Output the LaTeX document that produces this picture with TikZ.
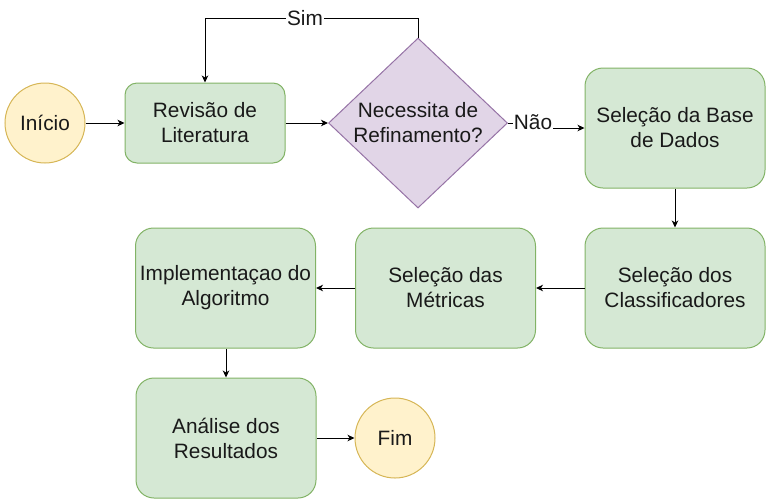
\documentclass[tikz,border=0pt]{standalone}
\usepackage{fontspec}
\setmainfont{Liberation Sans}
\usetikzlibrary{arrows.meta,shapes.geometric}
\definecolor{gfill}{HTML}{D5E8D4}
\definecolor{gline}{HTML}{82B366}
\definecolor{yfill}{HTML}{FFF2CC}
\definecolor{yline}{HTML}{D6B656}
\definecolor{pfill}{HTML}{E1D5E7}
\definecolor{pline}{HTML}{9673A6}
\tikzset{
  txt/.style={font=\fontsize{20.8}{25}\selectfont, align=center, text=black!90},
  procbox/.style={txt, draw=gline, fill=gfill, line width=1pt, rectangle, inner sep=0pt},
  bigbox/.style={procbox, minimum width=180pt, minimum height=120pt, rounded corners=18pt},
  smallbox/.style={procbox, minimum width=160pt, minimum height=80pt, rounded corners=12pt},
  term/.style={txt, draw=yline, fill=yfill, line width=1pt, circle, minimum size=80pt, inner sep=0pt},
  decis/.style={draw=pline, fill=pfill, line width=1pt, diamond, minimum width=179pt, minimum height=170pt, inner sep=0pt},
  arr/.style={draw=black, line width=1pt, -{Stealth[length=7pt,width=6.5pt,inset=2pt]}},
  lbl/.style={txt, fill=white, inner sep=1pt}
}
\begin{document}
\begin{tikzpicture}[x=1pt,y=-1pt]
\useasboundingbox (0,0) rectangle (767,499);
\node[term] (inicio) at (45,123) {Início};
\node[smallbox] (rev) at (205,123) {Revisão de\\Literatura};
\node[decis] (dec) at (418,123) {};
\node[txt] (dtext) at (418,123) {Necessita de\\Refinamento?};
\node[bigbox] (base) at (675,128) {Seleção da Base\\de Dados};
\node[bigbox] (clas) at (675,288) {Seleção dos\\Classificadores};
\node[bigbox] (metr) at (445.5,288) {Seleção das\\Métricas};
\node[bigbox] (impl) at (225.5,288) {Implementaçao do\\Algoritmo};
\node[bigbox] (anal) at (226,438) {Análise dos\\Resultados};
\node[term] (fim) at (395,438) {Fim};

\draw[arr] (inicio) -- (rev);
\draw[arr] (rev) -- (dec.west);
\coordinate (simtop) at (418,18);
\draw[arr] (dec.north) -- (simtop) -| (rev.north);
\node[lbl] (sim) at (305,18) {Sim};
\coordinate (n1) at (533,123);
\coordinate (n2) at (533,128);
\draw[arr] (dec.east) -- (n1) -- (n2) -- (base.west);
\node[lbl] (nao) at (533,122) {Não};
\draw[arr] (base) -- (clas);
\draw[arr] (clas) -- (metr);
\draw[arr] (metr) -- (impl);
\draw[arr] (impl.south -| anal) -- (anal);
\draw[arr] (anal) -- (fim);
\end{tikzpicture}
\end{document}
